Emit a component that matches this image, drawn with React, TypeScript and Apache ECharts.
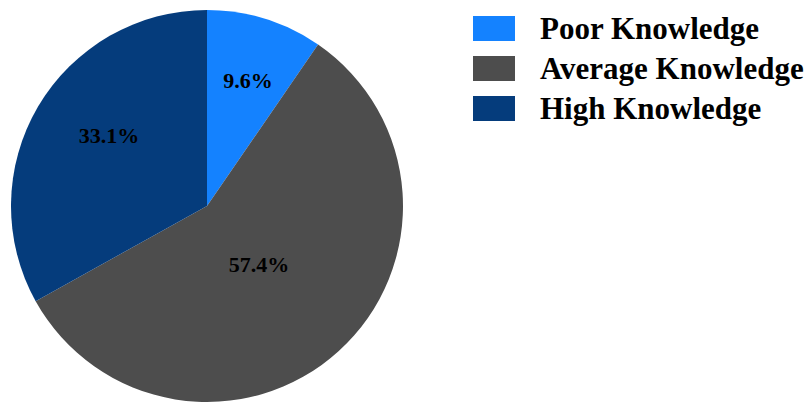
import React, { useEffect, useRef } from "react";
import * as echarts from "echarts";

const categories = ["Poor Knowledge", "Average Knowledge", "High Knowledge"];
const values = [9.6, 57.4, 33.1];
const colors = ["#1482ff", "#4d4d4d", "#053c7c"];
// label nudges (px) from the inner mid-radius position
const labelShift = [
  [11, -29],
  [-16, -16],
  [-11, -19],
];

export default function App() {
  const ref = useRef<HTMLDivElement>(null);
  useEffect(() => {
    if (!ref.current) return;
    const chart = echarts.init(ref.current, null, { renderer: "svg" });
    chart.setOption({
      animation: false,
      backgroundColor: "#ffffff",
      color: colors,
      legend: {
        orient: "vertical",
        left: 473,
        top: 13,
        padding: 0,
        itemWidth: 42,
        itemHeight: 25,
        itemGap: 9,
        icon: "rect",
        data: categories,
        textStyle: {
          fontFamily: "Liberation Serif",
          fontWeight: "bold",
          fontSize: 31,
          lineHeight: 25,
          color: "#000",
          padding: [0, 0, 0, 20],
        },
      },
      series: [
        {
          type: "pie",
          center: [207, 206],
          radius: 196,
          startAngle: 90,
          clockwise: true,
          data: categories.map((c, i) => ({ name: c, value: values[i] })),
          label: {
            show: true,
            position: "inside",
            formatter: (p: any) => p.value.toFixed(1) + "%",
            fontFamily: "Liberation Serif",
            fontWeight: "bold",
            fontSize: 22,
            color: "#000",
          },
          labelLayout: (p: any) => ({
            dx: labelShift[p.dataIndex][0],
            dy: labelShift[p.dataIndex][1],
          }),
          labelLine: { show: false },
          emphasis: { disabled: true },
        },
      ],
    });
    return () => chart.dispose();
  }, []);
  return (
    <div
      ref={ref}
      style={{ position: "fixed", left: 0, top: 0, width: 811, height: 403 }}
    />
  );
}
